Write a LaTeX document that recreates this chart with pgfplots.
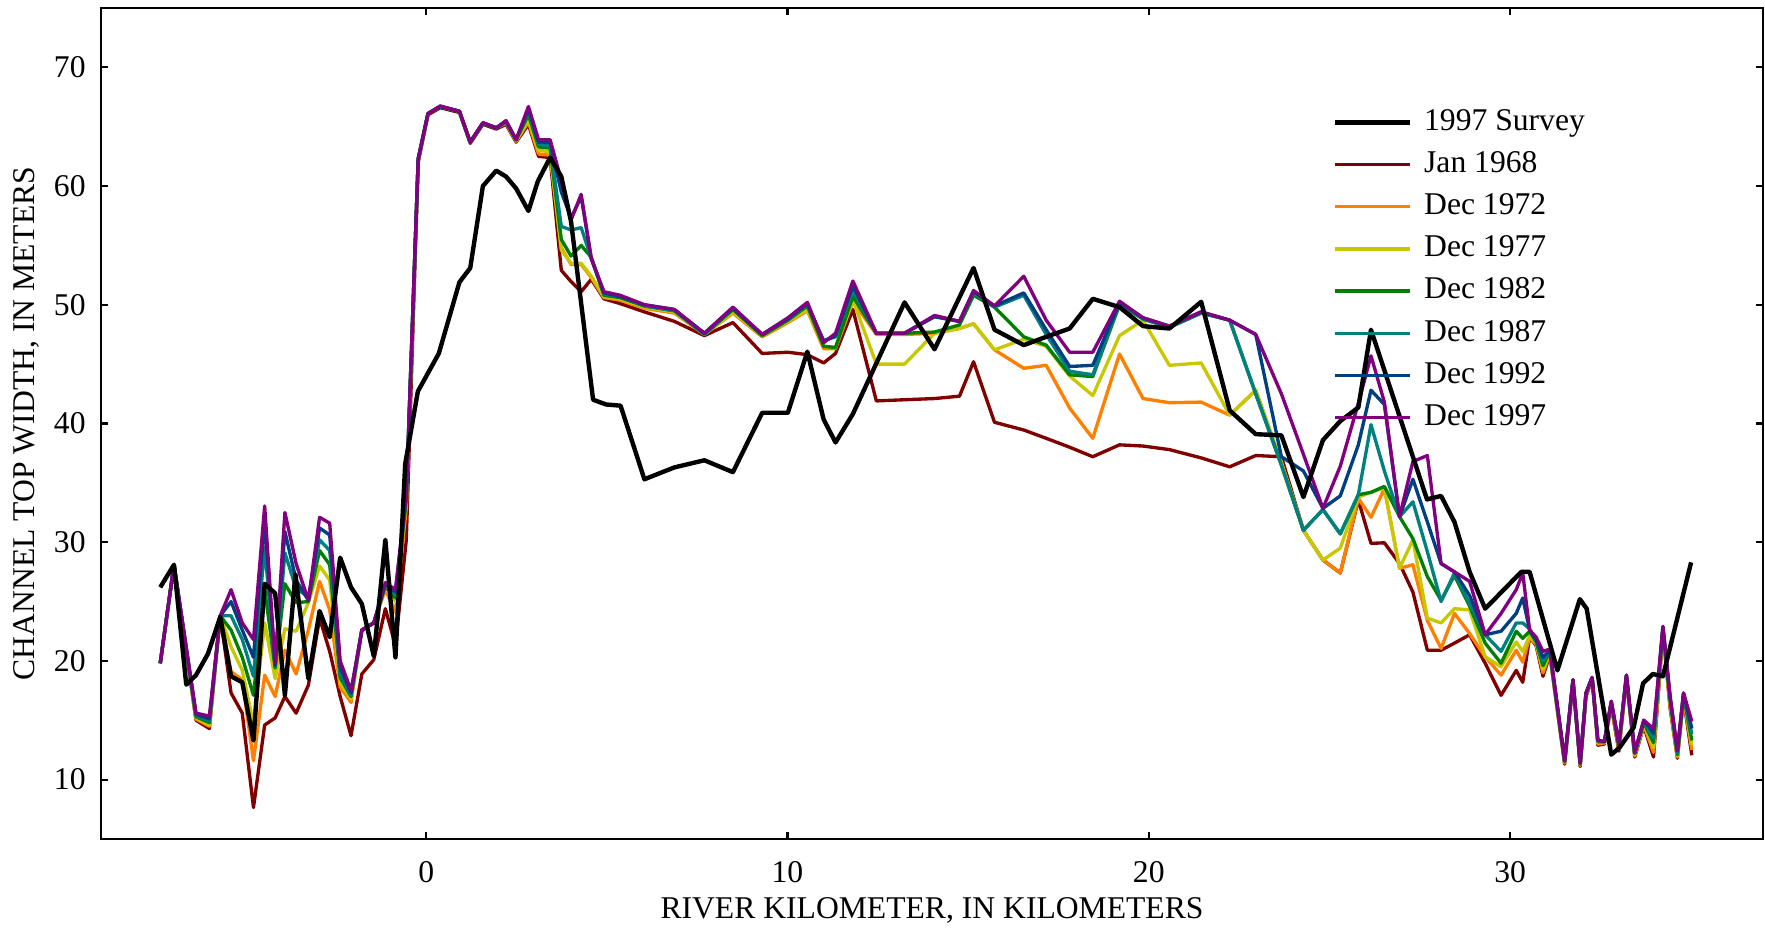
\documentclass[border=0pt]{standalone}
\usepackage{pgfplots}
\pgfplotsset{compat=1.18}
\usepackage{pgfplotstable}
\usepackage{fontspec}
\setmainfont{Liberation Serif}
\definecolor{cR}{RGB}{128,0,0}
\definecolor{cO}{RGB}{255,128,0}
\definecolor{cY}{RGB}{200,200,0}
\definecolor{cG}{RGB}{0,128,0}
\definecolor{cT}{RGB}{0,128,128}
\definecolor{cB}{RGB}{0,64,128}
\definecolor{cP}{RGB}{128,0,128}

\pgfplotstableread{
x R O Y G T B P
-7.36 19.8 19.8 19.8 19.8 19.8 19.8 19.8
-6.98 28.1 28.1 28.1 28.1 28.1 28.1 28.1
-6.37 15.0 15.1 15.2 15.3 15.4 15.5 15.6
-6.00 14.3 14.5 14.6 14.8 14.95 15.1 15.35
-5.70 23.8 23.8 23.8 23.8 23.8 23.8 23.8
-5.40 17.3 19.1 21.2 22.6 23.8 25.0 26.0
-5.09 15.6 18.4 19.2 20.3 21.8 22.6 23.2
-4.78 7.65 11.6 14.7 17.1 18.7 20.3 21.8
-4.47 14.6 18.8 23.2 26.1 29.6 31.9 33.05
-4.18 15.2 17.0 18.5 19.4 19.5 19.6 19.8
-3.91 17.0 20.9 22.7 26.5 29.1 30.9 32.5
-3.60 15.6 18.9 22.5 24.9 26.1 26.8 28.2
-3.26 17.96 22.6 24.9 25.0 25.4 25.1 25.1
-2.95 23.6 26.7 28.0 29.3 30.2 31.2 32.1
-2.67 20.8 24.3 26.8 28.1 29.3 30.6 31.6
-2.38 17.0 17.8 18.2 18.6 19.0 19.4 20.0
-2.08 13.7 16.5 16.8 17.0 17.1 17.3 17.5
-1.78 18.9 22.6 22.6 22.6 22.6 22.6 22.6
-1.45 20.1 23.2 23.2 23.2 23.2 23.2 23.2
-1.13 24.4 26.0 26.2 26.3 26.4 26.5 26.6
-0.85 21.3 24.1 25.0 25.3 25.6 25.8 26.0
-0.55 30.2 32.9 33.4 33.6 33.8 34.0 34.0
-0.22 62.0 62.2 62.3 62.3 62.3 62.3 62.3
0.05 66.0 66.1 66.1 66.1 66.1 66.1 66.1
0.39 66.6 66.7 66.7 66.7 66.7 66.7 66.75
0.92 66.2 66.3 66.3 66.3 66.3 66.3 66.3
1.22 63.6 63.7 63.7 63.7 63.7 63.7 63.7
1.57 65.2 65.3 65.3 65.3 65.3 65.3 65.35
1.94 64.8 64.9 64.9 64.9 64.9 64.9 64.9
2.21 65.2 65.3 65.4 65.4 65.4 65.5 65.5
2.49 63.7 63.8 63.8 63.9 63.9 63.9 63.9
2.83 65.2 65.4 65.6 66.0 66.3 66.5 66.7
3.11 62.5 62.7 63.0 63.3 63.5 63.7 63.9
3.43 62.4 62.6 62.9 63.2 63.4 63.7 63.9
3.74 52.9 54.8 54.6 55.5 56.6 59.5 60.5
4.01 51.95 53.4 53.5 54.1 56.3 57.3 57.15
4.29 51.1 53.4 53.5 55.0 56.5 59.1 59.3
4.57 52.15 52.3 52.4 54.0 53.9 53.9 53.9
4.92 50.5 50.6 50.7 50.8 50.9 51.0 51.1
5.37 50.1 50.4 50.5 50.6 50.7 50.7 50.8
6.04 49.4 49.7 49.8 49.9 49.9 50.0 50.0
6.87 48.6 49.3 49.4 49.5 49.5 49.6 49.6
7.70 47.4 47.5 47.5 47.5 47.5 47.6 47.6
8.49 48.5 49.3 49.4 49.6 49.7 49.7 49.8
9.30 45.9 47.3 47.4 47.4 47.5 47.5 47.5
10.01 46.0 48.5 48.6 48.7 48.8 48.8 48.9
10.55 45.8 49.5 49.6 49.9 50.0 50.1 50.2
11.00 45.1 46.3 46.5 46.5 47.0 46.9 46.8
11.33 45.9 46.3 46.4 46.4 47.3 47.4 47.6
11.81 49.6 50.3 50.4 50.7 51.2 51.6 52.0
12.46 41.9 47.5 45.0 47.6 47.6 47.6 47.6
13.24 42.0 47.5 45.0 47.6 47.6 47.6 47.6
14.07 42.1 47.6 47.6 47.7 49.0 49.0 49.1
14.76 42.3 48.0 48.0 48.3 48.6 48.6 48.6
15.15 45.2 48.4 48.4 50.8 51.0 51.1 51.2
15.73 40.1 46.2 46.2 49.8 49.8 49.9 49.9
16.54 39.45 44.65 47.1 47.3 50.8 51.0 52.4
17.16 38.75 44.9 46.5 46.6 47.5 47.9 48.7
17.81 38.0 41.3 44.0 44.1 44.4 44.8 46.0
18.45 37.2 38.75 42.35 43.95 44.1 44.9 46.0
19.19 38.2 45.85 47.4 50.0 50.1 50.2 50.3
19.84 38.1 42.1 48.7 48.8 48.8 48.9 48.9
20.57 37.8 41.75 44.9 48.1 48.1 48.2 48.2
21.45 37.1 41.8 45.1 49.3 49.3 49.4 49.4
22.24 36.35 40.7 40.7 48.7 48.7 48.7 48.7
22.96 37.3 42.8 42.8 42.5 42.5 47.5 47.5
23.67 37.2 36.7 36.7 36.5 36.5 37.2 42.5
24.28 31.0 31.0 31.0 31.0 31.0 36.0 37.4
24.82 28.5 28.5 28.5 32.75 32.75 32.85 32.85
25.30 27.4 27.4 29.5 30.7 30.7 33.9 36.4
25.80 33.55 33.7 33.8 34.0 34.0 38.2 41.7
26.15 29.9 32.1 34.2 34.2 39.9 42.8 45.7
26.52 29.95 34.5 34.6 34.7 36.0 41.6 41.8
26.94 28.2 27.8 27.8 32.15 32.15 32.15 32.15
27.31 25.8 28.1 30.2 30.3 33.4 35.3 36.8
27.71 20.9 23.4 23.6 27.1 29.2 31.7 37.3
28.09 20.9 21.05 23.2 25.1 25.0 28.2 28.2
28.46 21.5 24.0 24.4 27.2 27.4 27.5 27.5
28.88 22.2 22.3 24.3 24.6 24.8 25.5 26.7
29.31 19.8 20.35 20.35 21.5 22.2 22.2 22.2
29.75 17.1 18.8 19.5 19.8 20.8 22.5 24.0
30.17 19.2 20.9 21.6 22.5 23.2 24.0 26.0
30.35 18.2 19.9 20.8 21.9 23.2 25.3 27.4
30.54 22.0 22.0 22.1 22.5 22.7 22.6 22.6
30.72 21.3 21.4 21.5 21.6 21.7 21.8 22.0
30.91 18.7 19.0 19.3 19.6 20.0 20.3 20.8
31.10 20.5 20.6 20.7 20.8 20.8 20.9 21.0
31.51 11.3 11.4 11.5 11.5 11.6 11.6 11.6
31.74 18.2 18.3 18.3 18.4 18.4 18.4 18.4
31.94 11.1 11.2 11.3 11.3 11.4 11.4 11.4
32.10 17.0 17.1 17.2 17.2 17.3 17.3 17.3
32.27 18.5 18.5 18.5 18.6 18.6 18.6 18.6
32.43 12.9 13.0 13.1 13.2 13.2 13.3 13.3
32.61 13.0 13.1 13.1 13.2 13.2 13.2 13.2
32.80 16.2 16.3 16.4 16.5 16.5 16.6 16.6
33.01 12.4 12.6 12.7 12.8 12.9 13.0 13.0
33.22 18.5 18.6 18.7 18.7 18.8 18.8 18.8
33.45 11.9 12.0 12.1 12.2 12.2 12.3 12.3
33.70 14.5 14.6 14.7 14.8 14.9 15.0 15.0
33.97 11.9 12.3 12.7 13.1 13.5 13.9 14.3
34.23 22.4 22.5 22.6 22.7 22.8 22.9 22.9
34.43 16.0 16.2 16.4 16.6 16.8 16.9 17.0
34.63 11.8 11.9 12.0 12.1 12.2 12.4 12.5
34.80 16.8 16.9 17.0 17.1 17.2 17.3 17.3
35.03 12.05 12.5 12.9 13.3 13.8 14.3 14.9
}\modeled

\pgfplotstableread{
x S
-7.36 26.2
-6.98 28.1
-6.64 18.0
-6.37 18.8
-6.04 20.6
-5.70 23.7
-5.40 18.7
-5.09 18.2
-4.78 13.3
-4.47 26.5
-4.18 25.7
-3.91 17.1
-3.62 27.3
-3.26 18.5
-2.95 24.2
-2.67 22.0
-2.38 28.7
-2.08 26.2
-1.78 24.8
-1.45 20.4
-1.13 30.2
-0.85 20.3
-0.58 36.6
-0.23 42.7
0.35 45.9
0.92 51.9
1.22 53.1
1.57 60.0
1.94 61.3
2.21 60.8
2.49 59.8
2.83 57.9
3.09 60.4
3.43 62.4
3.74 60.8
4.01 57.0
4.62 42.0
4.98 41.6
5.38 41.5
6.04 35.3
6.87 36.3
7.70 36.9
8.49 35.9
9.30 40.9
10.01 40.9
10.55 46.05
11.00 40.35
11.33 38.4
11.81 40.8
13.24 50.2
14.07 46.25
15.15 53.1
15.73 47.9
16.54 46.6
17.16 47.3
17.81 48.0
18.45 50.5
19.19 49.8
19.84 48.2
20.57 48.0
21.45 50.25
22.24 41.1
22.96 39.1
23.67 39.0
24.28 33.8
24.82 38.6
25.30 40.2
25.80 41.35
26.15 47.9
27.70 33.6
28.09 33.9
28.46 31.7
28.88 27.5
29.31 24.4
30.31 27.5
30.54 27.5
31.31 19.2
31.93 25.2
32.12 24.4
32.80 12.1
33.03 12.7
33.42 14.4
33.68 18.1
33.95 18.9
34.23 18.7
35.01 28.3
}\survey

\begin{document}
\begin{tikzpicture}
\begin{axis}[
  scale only axis, width=16.62cm, height=8.31cm,
  xmin=-9, xmax=37, ymin=5, ymax=75,
  xtick={0,10,20,30}, ytick={10,20,30,40,50,60,70},
  tick align=inside, major tick length=0.07cm,
  font=\fontsize{9}{11}\selectfont,
  /pgf/number format/assume math mode=true,
  axis line style={line width=0.6pt},
  tick style={line width=0.6pt, black},
  xticklabel style={anchor=center, yshift=-0.334cm},
  yticklabel style={xshift=-0.03cm},
  xlabel={RIVER KILOMETER, IN KILOMETERS},
  ylabel={CHANNEL TOP WIDTH, IN METERS},
  xlabel style={at={(axis description cs:0.5,-0.086)}, anchor=center, inner sep=0pt},
  ylabel style={at={(axis description cs:-0.0451,0.5)}, anchor=center, inner sep=0pt},
  legend style={draw=none, fill=none, at={(0.7407,0.8812)}, anchor=north west,
    inner sep=0pt, column sep=0.12cm, row sep=3.5pt,
    nodes={inner sep=0pt, text height=6.5pt, text depth=2pt},
    font=\fontsize{9}{11}\selectfont},
  legend cell align=left,
  legend image code/.code={\draw[#1] (0cm,0cm) -- (0.75cm,0cm);},
  every axis plot/.append style={line join=round},
]
\addlegendimage{black, line width=1.25pt}
\addlegendentry{1997 Survey}
\addplot[cR, line width=0.95pt] table[x=x, y=R] {\modeled};
\addlegendentry{Jan 1968}
\addplot[cO, line width=0.95pt] table[x=x, y=O] {\modeled};
\addlegendentry{Dec 1972}
\addplot[cY, line width=0.95pt] table[x=x, y=Y] {\modeled};
\addlegendentry{Dec 1977}
\addplot[cG, line width=0.95pt] table[x=x, y=G] {\modeled};
\addlegendentry{Dec 1982}
\addplot[cT, line width=0.95pt] table[x=x, y=T] {\modeled};
\addlegendentry{Dec 1987}
\addplot[cB, line width=0.95pt] table[x=x, y=B] {\modeled};
\addlegendentry{Dec 1992}
\addplot[cP, line width=0.95pt] table[x=x, y=P] {\modeled};
\addlegendentry{Dec 1997}
\addplot[black, line width=1.25pt, forget plot] table[x=x, y=S] {\survey};
\end{axis}
\path ([xshift=-1.01cm,yshift=-0.93cm]current axis.south west) rectangle ([xshift=0.02cm,yshift=0.08cm]current axis.north east);
\end{tikzpicture}
\end{document}
